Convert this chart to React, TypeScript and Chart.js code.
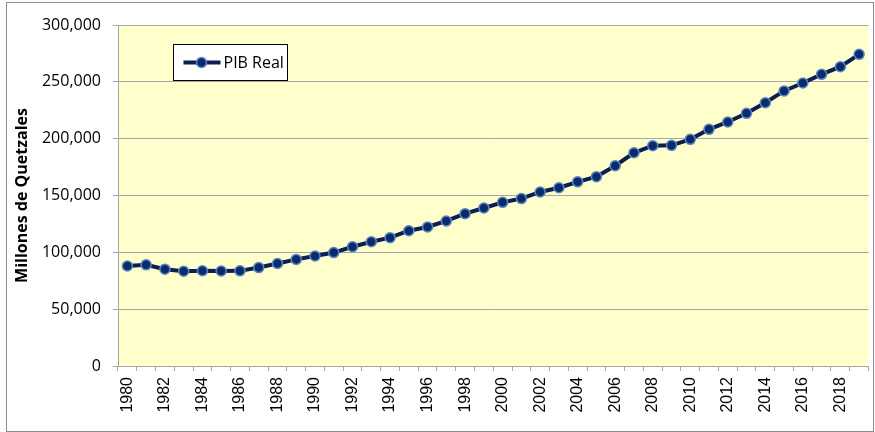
import React, { useEffect, useRef } from "react";
import { Chart, registerables } from "chart.js";

Chart.register(...registerables);

const seriesLabel = "PIB Real";
const yAxisTitle = "Millones de Quetzales";

const years: string[] = [
  "1980", "1981", "1982", "1983", "1984", "1985", "1986", "1987", "1988", "1989",
  "1990", "1991", "1992", "1993", "1994", "1995", "1996", "1997", "1998", "1999",
  "2000", "2001", "2002", "2003", "2004", "2005", "2006", "2007", "2008", "2009",
  "2010", "2011", "2012", "2013", "2014", "2015", "2016", "2017", "2018", "2019",
];

const pibReal: number[] = [
  88000, 89000, 85200, 83400, 83800, 83600, 83700, 86600, 90200, 93800,
  96800, 99800, 104900, 109300, 112900, 119000, 122300, 127600, 134000, 139000,
  144000, 147300, 153100, 156800, 162000, 166600, 176200, 187600, 193800, 194100,
  199400, 208200, 214700, 222300, 231600, 242000, 249000, 256600, 263300, 274200,
];

const yMin = 0;
const yMax = 300000;
const yStep = 50000;

const LINE_COLOR = "#0a1e50";
const POINT_FILL = "#0b2a6b";
const POINT_BORDER = "#5b86c4";
const GRID = "#a6a6a6";
const PLOT_BG = "#ffffcc";

const bgPlugin = {
  id: "plotBg",
  beforeDraw(chart: any) {
    const { ctx, chartArea } = chart;
    ctx.save();
    ctx.fillStyle = "#ffffff";
    ctx.fillRect(0, 0, chart.width, chart.height);
    ctx.fillStyle = PLOT_BG;
    ctx.fillRect(chartArea.left, chartArea.top, chartArea.right - chartArea.left, chartArea.bottom - chartArea.top);
    ctx.restore();
  },
};

const framePlugin = {
  id: "frame",
  afterDraw(chart: any) {
    const { ctx } = chart;
    ctx.save();
    ctx.strokeStyle = "#8c8c8c";
    ctx.lineWidth = 1;
    ctx.strokeRect(6.5, 2.5, chart.width - 8, chart.height - 3);
    // custom legend
    const x0 = 173.5, y0 = 44.5, w = 114, h = 36;
    ctx.fillStyle = "#ffffff";
    ctx.fillRect(x0, y0, w, h);
    ctx.strokeStyle = "#000000";
    ctx.strokeRect(x0, y0, w, h);
    const cy = y0 + h / 2;
    ctx.strokeStyle = LINE_COLOR;
    ctx.lineWidth = 4;
    ctx.beginPath();
    ctx.moveTo(x0 + 10, cy);
    ctx.lineTo(x0 + 47, cy);
    ctx.stroke();
    ctx.beginPath();
    ctx.arc(x0 + 28, cy, 5, 0, Math.PI * 2);
    ctx.fillStyle = POINT_FILL;
    ctx.fill();
    ctx.lineWidth = 1.5;
    ctx.strokeStyle = POINT_BORDER;
    ctx.stroke();
    ctx.fillStyle = "#000000";
    ctx.font = "16px 'Open Sans'";
    ctx.textBaseline = "middle";
    ctx.textAlign = "left";
    ctx.fillText(chart.data.datasets[0].label, x0 + 50, cy + 1);
    ctx.restore();
  },
};

export default function App() {
  const ref = useRef<HTMLCanvasElement>(null);
  useEffect(() => {
    if (!ref.current) return;
    const chart = new Chart(ref.current, {
      type: "line",
      data: {
        labels: years,
        datasets: [
          {
            label: seriesLabel,
            data: pibReal,
            borderColor: LINE_COLOR,
            borderWidth: 4,
            pointRadius: 5,
            pointBackgroundColor: POINT_FILL,
            pointBorderColor: POINT_BORDER,
            pointBorderWidth: 1.5,
            tension: 0,
          },
        ],
      },
      options: {
        responsive: false,
        animation: false,
        layout: { padding: { top: 25, right: 4, left: 0, bottom: 0 } },
        plugins: { legend: { display: false }, tooltip: { enabled: false } },
        scales: {
          x: {
            type: "category",
            offset: true,
            afterFit: (s: any) => { s.height = 66; s.paddingLeft = 0; s.paddingRight = 0; },
            grid: {
              offset: true,
              drawOnChartArea: false,
              drawTicks: true,
              tickLength: 5,
              color: GRID,
            },
            border: { display: true, color: GRID },
            ticks: {
              autoSkip: false,
              maxRotation: 90,
              minRotation: 90,
              padding: 6,
              color: "#000000",
              font: { family: "'Liberation Sans'", size: 16 },
              callback: function (this: any, v: any, i: number) {
                return i % 2 === 0 ? years[i] : "";
              },
            },
          },
          y: {
            min: yMin,
            max: yMax,
            afterFit: (s: any) => { s.width = 118; s.paddingTop = 0; s.paddingBottom = 0; },
            grid: { color: GRID, tickLength: 5, drawTicks: true },
            border: { display: true, color: GRID },
            ticks: {
              stepSize: yStep,
              padding: 12,
              color: "#000000",
              font: { family: "'Open Sans'", size: 16 },
              callback: (v: any) => Number(v).toLocaleString("en-US"),
            },
            title: {
              display: true,
              text: yAxisTitle,
              color: "#000000",
              font: { family: "'Open Sans'", size: 16, weight: "bold" },
              padding: { top: 13, bottom: 0 },
            },
          },
        },
      },
      plugins: [bgPlugin, framePlugin],
    });
    return () => chart.destroy();
  }, []);
  return (
    <div style={{ position: "absolute", left: 0, top: 0, width: 875, height: 432 }}>
      <canvas ref={ref} width={875} height={432} style={{ width: 875, height: 432, display: "block" }} />
    </div>
  );
}
